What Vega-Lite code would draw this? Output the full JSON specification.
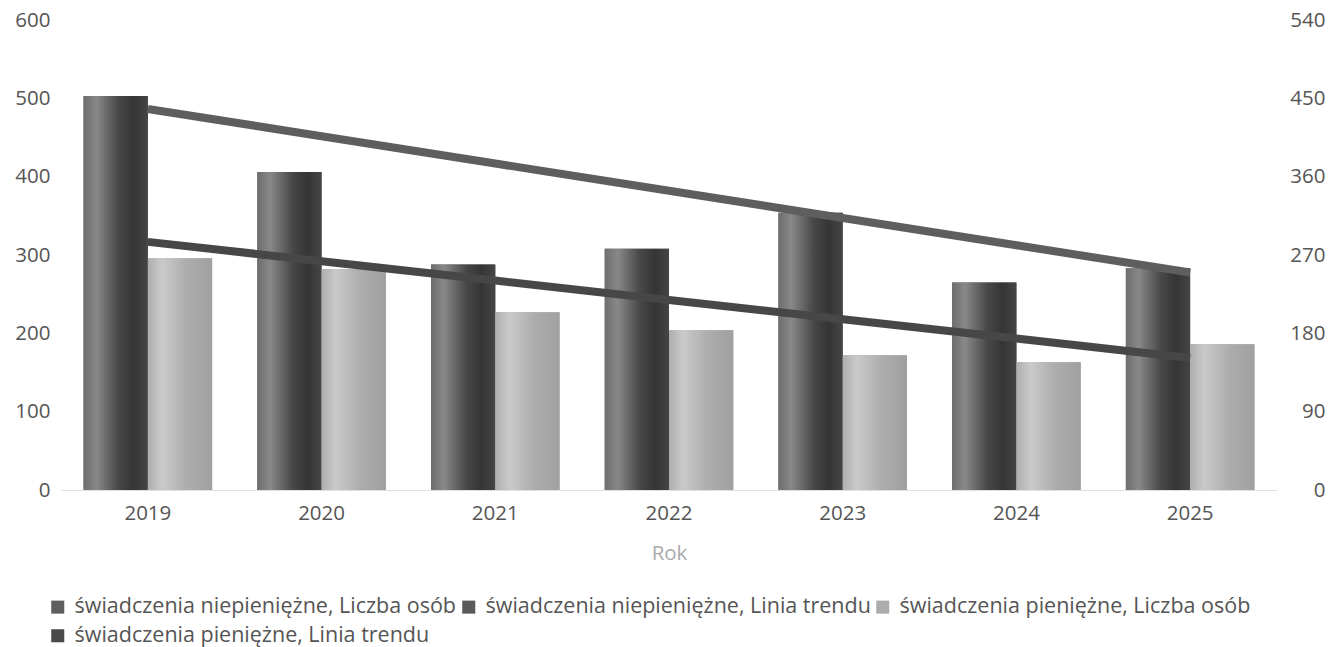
{
  "$schema": "https://vega.github.io/schema/vega-lite/v6.json",
  "width": 1216,
  "height": 470,
  "autosize": {"type": "none"},
  "padding": {"left": 61, "top": 20, "right": 52, "bottom": 157},
  "background": "white",
  "config": {
    "view": {"stroke": null},
    "font": "Open Sans",
    "axis": {"labelFont": "Open Sans", "labelFontSize": 20.5, "labelColor": "#555555", "grid": false, "ticks": false, "titleFont": "Open Sans"},
    "legend": {"labelFont": "Open Sans"}
  },
  "datasets": {
    "bars": [
      {"rok": "2019", "seria": "świadczenia niepieniężne, Liczba osób", "wartosc": 503},
      {"rok": "2020", "seria": "świadczenia niepieniężne, Liczba osób", "wartosc": 406},
      {"rok": "2021", "seria": "świadczenia niepieniężne, Liczba osób", "wartosc": 288},
      {"rok": "2022", "seria": "świadczenia niepieniężne, Liczba osób", "wartosc": 308},
      {"rok": "2023", "seria": "świadczenia niepieniężne, Liczba osób", "wartosc": 354},
      {"rok": "2024", "seria": "świadczenia niepieniężne, Liczba osób", "wartosc": 265},
      {"rok": "2025", "seria": "świadczenia niepieniężne, Liczba osób", "wartosc": 283},
      {"rok": "2019", "seria": "świadczenia pieniężne, Liczba osób", "wartosc": 296},
      {"rok": "2020", "seria": "świadczenia pieniężne, Liczba osób", "wartosc": 282},
      {"rok": "2021", "seria": "świadczenia pieniężne, Liczba osób", "wartosc": 227},
      {"rok": "2022", "seria": "świadczenia pieniężne, Liczba osób", "wartosc": 204},
      {"rok": "2023", "seria": "świadczenia pieniężne, Liczba osób", "wartosc": 172},
      {"rok": "2024", "seria": "świadczenia pieniężne, Liczba osób", "wartosc": 163},
      {"rok": "2025", "seria": "świadczenia pieniężne, Liczba osób", "wartosc": 186}
    ],
    "trend": [
      {"rok": "2019", "seria": "świadczenia niepieniężne, Linia trendu", "wartosc": 437.8},
      {"rok": "2020", "seria": "świadczenia niepieniężne, Linia trendu", "wartosc": 406.5},
      {"rok": "2021", "seria": "świadczenia niepieniężne, Linia trendu", "wartosc": 375.1},
      {"rok": "2022", "seria": "świadczenia niepieniężne, Linia trendu", "wartosc": 343.8},
      {"rok": "2023", "seria": "świadczenia niepieniężne, Linia trendu", "wartosc": 312.5},
      {"rok": "2024", "seria": "świadczenia niepieniężne, Linia trendu", "wartosc": 281.2},
      {"rok": "2025", "seria": "świadczenia niepieniężne, Linia trendu", "wartosc": 249.9},
      {"rok": "2019", "seria": "świadczenia pieniężne, Linia trendu", "wartosc": 285.1},
      {"rok": "2020", "seria": "świadczenia pieniężne, Linia trendu", "wartosc": 262.9},
      {"rok": "2021", "seria": "świadczenia pieniężne, Linia trendu", "wartosc": 240.6},
      {"rok": "2022", "seria": "świadczenia pieniężne, Linia trendu", "wartosc": 218.4},
      {"rok": "2023", "seria": "świadczenia pieniężne, Linia trendu", "wartosc": 196.2},
      {"rok": "2024", "seria": "świadczenia pieniężne, Linia trendu", "wartosc": 174.0},
      {"rok": "2025", "seria": "świadczenia pieniężne, Linia trendu", "wartosc": 151.7}
    ]
  },
  "encoding": {
    "x": {
      "field": "rok", "type": "nominal", "sort": null,
      "scale": {"paddingInner": 0.26, "paddingOuter": 0.13},
      "axis": {"title": "Rok", "titleFontSize": 20.5, "titleColor": "#aaaaaa", "titleFontWeight": "normal", "titlePadding": 20, "labelAngle": 0, "labelPadding": 13, "domain": true, "domainColor": "#e0e0e0", "domainWidth": 1}
    }
  },
  "layer": [
    {
      "data": {"name": "bars"},
      "encoding": {
        "y": {"field": "wartosc", "type": "quantitative", "scale": {"domain": [0, 600], "nice": false}, "axis": {"title": null, "orient": "left", "values": [0, 100, 200, 300, 400, 500, 600], "domain": false, "labelPadding": 11}},
        "xOffset": {"field": "seria", "type": "nominal", "scale": {"domain": ["świadczenia niepieniężne, Liczba osób", "świadczenia pieniężne, Liczba osób"], "paddingInner": 0}}
      },
      "layer": [
        {
          "mark": {"type": "bar"},
          "encoding": {
            "color": {
              "field": "seria", "type": "nominal",
              "scale": {
                "domain": ["świadczenia niepieniężne, Liczba osób", "świadczenia niepieniężne, Linia trendu", "świadczenia pieniężne, Liczba osób", "świadczenia pieniężne, Linia trendu"],
                "range": ["#5e5e5e", "#5a5a5a", "#acacac", "#4a4a4a"]
              },
              "legend": {
                "title": null, "orient": "none", "legendX": -14, "legendY": 576, "direction": "horizontal", "columns": 3,
                "labelFontSize": 21.5, "labelColor": "#555555", "symbolType": "square", "symbolSize": 170, "symbolStrokeWidth": 0,
                "columnPadding": 1, "rowPadding": 6, "labelOffset": 6, "labelLimit": 700
              }
            }
          }
        },
        {
          "transform": [{"filter": "datum.seria == 'świadczenia niepieniężne, Liczba osób'"}],
          "mark": {"type": "bar", "color": {"gradient": "linear", "x1": 0, "x2": 1, "y1": 0, "y2": 0, "stops": [
            {"offset": 0, "color": "#6e6e6e"}, {"offset": 0.2, "color": "#888888"}, {"offset": 0.55, "color": "#474747"}, {"offset": 0.78, "color": "#353535"}, {"offset": 1, "color": "#454545"}]}}
        },
        {
          "transform": [{"filter": "datum.seria == 'świadczenia pieniężne, Liczba osób'"}],
          "mark": {"type": "bar", "color": {"gradient": "linear", "x1": 0, "x2": 1, "y1": 0, "y2": 0, "stops": [
            {"offset": 0, "color": "#aeaeae"}, {"offset": 0.22, "color": "#cacaca"}, {"offset": 0.6, "color": "#adadad"}, {"offset": 1, "color": "#a0a0a0"}]}}
        }
      ]
    },
    {
      "data": {"name": "trend"},
      "encoding": {
        "y": {"field": "wartosc", "type": "quantitative", "scale": {"domain": [0, 540], "nice": false}, "axis": {"title": null, "orient": "right", "values": [0, 90, 180, 270, 360, 450, 540], "domain": false, "labelAlign": "right", "labelPadding": 48}}
      },
      "layer": [
        {
          "transform": [{"filter": "datum.seria == 'świadczenia niepieniężne, Linia trendu'"}],
          "mark": {"type": "line", "color": "#5e5e5e", "strokeWidth": 8, "strokeCap": "butt"}
        },
        {
          "transform": [{"filter": "datum.seria == 'świadczenia pieniężne, Linia trendu'"}],
          "mark": {"type": "line", "color": "#474747", "strokeWidth": 8, "strokeCap": "butt"}
        }
      ]
    }
  ],
  "resolve": {"scale": {"y": "independent"}}
}
